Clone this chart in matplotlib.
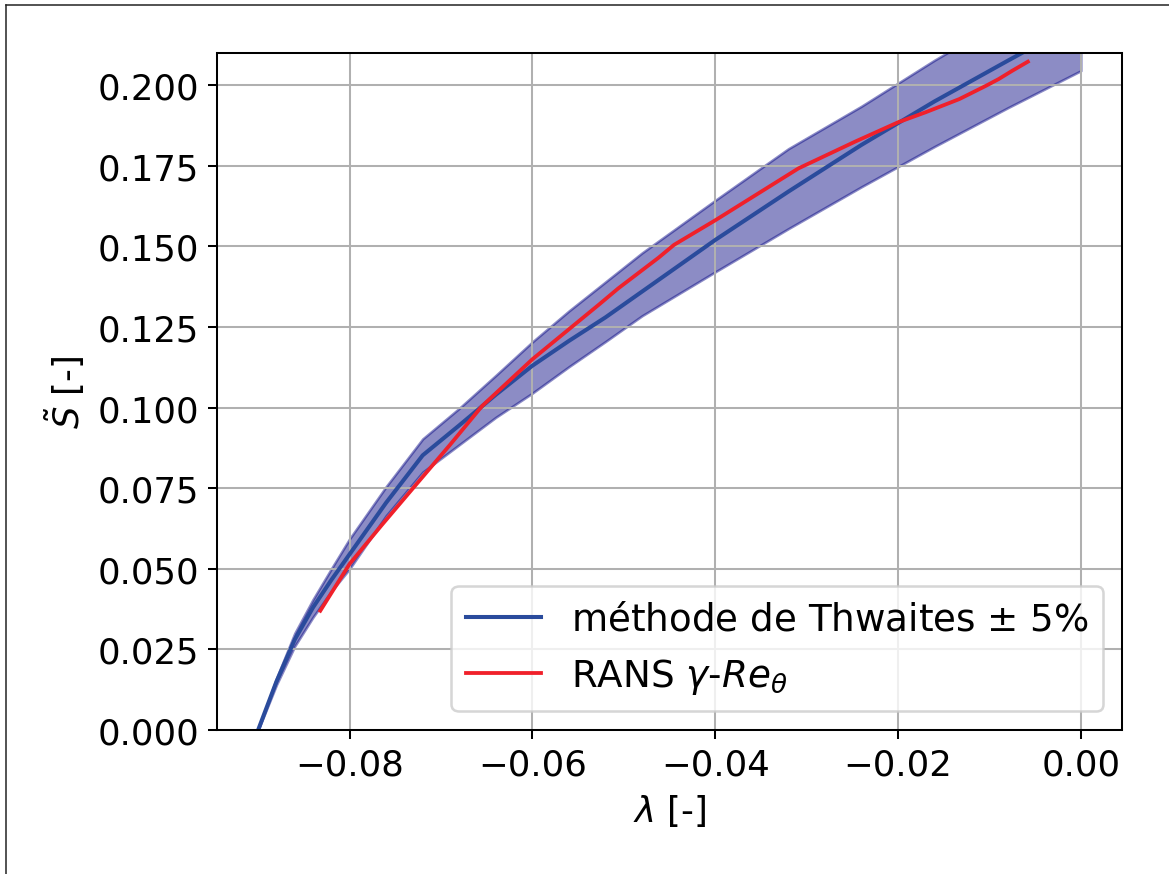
import numpy as np
import matplotlib
matplotlib.use("Agg")
import matplotlib.pyplot as plt
from matplotlib.lines import Line2D

# Thwaites correlation S~(lambda) with its +/- 5% band
lam_thw = [-0.090, -0.088, -0.086, -0.084, -0.082, -0.080, -0.076, -0.072,
           -0.068, -0.064, -0.060, -0.056, -0.052, -0.048, -0.040, -0.032,
           -0.024, -0.016, -0.008, 0.000]
s_thw = [0.000, 0.015, 0.028, 0.038, 0.0465, 0.0545, 0.0705, 0.0852,
         0.0945, 0.104, 0.113, 0.1207, 0.128, 0.136, 0.152, 0.167,
         0.1815, 0.195, 0.2076, 0.220]
s_thw_hi = [0.000, 0.016, 0.030, 0.0405, 0.050, 0.0593, 0.0755, 0.0903,
            0.0998, 0.110, 0.1204, 0.130, 0.139, 0.148, 0.1643, 0.1803,
            0.1935, 0.2078, 0.221, 0.233]
s_thw_lo = [0.000, 0.014, 0.026, 0.035, 0.043, 0.050, 0.0665, 0.080,
            0.0885, 0.097, 0.1045, 0.1127, 0.1205, 0.1285, 0.1421, 0.1555,
            0.1685, 0.181, 0.193, 0.2045]

# RANS gamma-Re_theta result
lam_rans = [-0.0832, -0.0800, -0.0765, -0.0730, -0.0690, -0.0655, -0.0600,
            -0.0527, -0.0506, -0.0462, -0.0445, -0.0400, -0.0309, -0.0247,
            -0.0200, -0.0170, -0.0133, -0.0104, -0.0090, -0.0075, -0.0058]
s_rans = [0.0370, 0.0515, 0.0635, 0.0752, 0.0885, 0.1005, 0.1150,
          0.1320, 0.1370, 0.1465, 0.1505, 0.1581, 0.1742, 0.1825,
          0.1885, 0.1916, 0.1957, 0.1998, 0.2019, 0.2045, 0.2073]

x_ticks = [-0.08, -0.06, -0.04, -0.02, 0.00]
y_ticks = [0.000, 0.025, 0.050, 0.075, 0.100, 0.125, 0.150, 0.175, 0.200]

plt.rcParams['font.family'] = ['DejaVu Sans']

fig = plt.figure(figsize=(6.4, 6.4 * 875 / 1169), dpi=1169 / 6.4)
ax = fig.add_axes([217 / 1169, 1 - 731 / 875, (1122 - 217) / 1169, (731 - 54) / 875])

ax.fill_between(lam_thw, s_thw_lo, s_thw_hi, color='navy', alpha=0.45)
ax.plot(lam_thw, s_thw, color='#2a4b9c', lw=1.6,
        label='méthode de Thwaites $\\pm$ 5%')
ax.plot(lam_rans, s_rans, color='#f0202a', lw=1.5,
        label='RANS $\\gamma$-$Re_\\theta$')

ax.set_xlim(-0.0945, 0.0045)
ax.set_ylim(0, 0.21)
ax.set_xticks(x_ticks)
ax.set_yticks(y_ticks)
ax.tick_params(labelsize=14)
ax.grid(True)
ax.set_xlabel('$\\lambda$ [-]', fontsize=14)
ax.set_ylabel('$\\tilde{S}$ [-]', fontsize=14)
ax.legend(loc='lower right', fontsize=14.7)

# frame around the figure (top and left edges)
fx = 6 / 1169
fy = 1 - 6 / 875
fig.add_artist(Line2D([fx, 1], [fy, fy], transform=fig.transFigure, color='#222222', lw=0.6))
fig.add_artist(Line2D([fx, fx], [0, fy], transform=fig.transFigure, color='#222222', lw=0.6))

fig.savefig('out.png')
